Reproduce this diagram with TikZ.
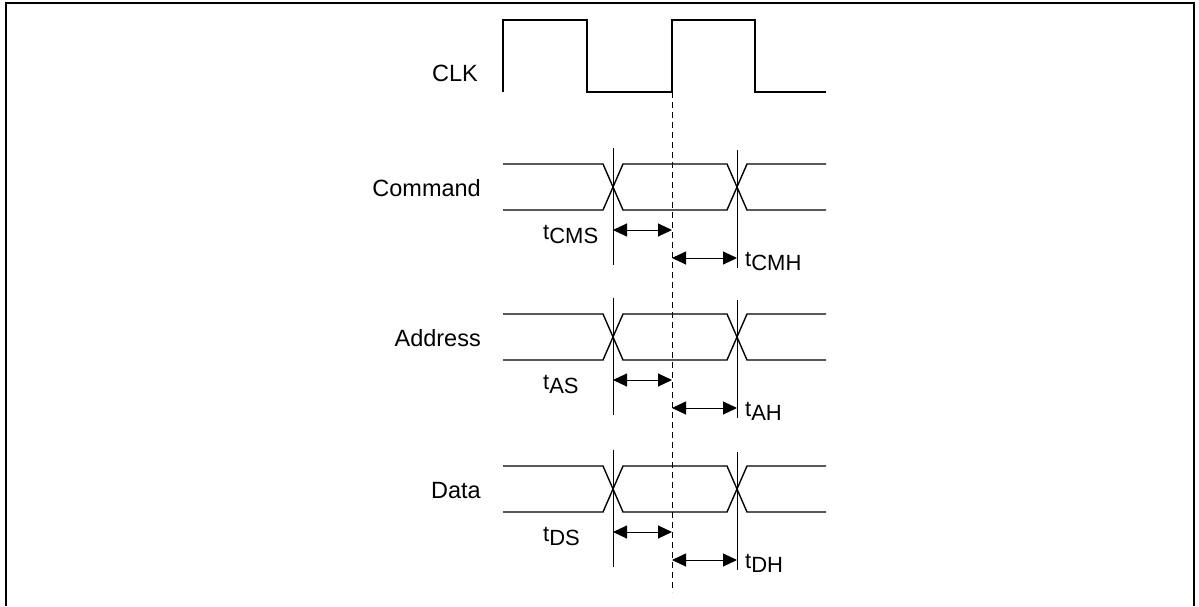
\documentclass[tikz,border=0pt]{standalone}
\usepackage{fontspec}
\setmainfont{Liberation Sans}
\usetikzlibrary{arrows.meta}
\newcommand\subtxt[1]{\raisebox{-4pt}{#1}}
\newcommand\busrow[5]{%
\begin{scope}[shift={(0,#2)}]
  \draw[busline] (503,164) -- (603,164) -- (623,210) -- (727,210) -- (747,164) -- (826,164);
  \draw[busline] (503,210) -- (603,210) -- (623,164) -- (727,164) -- (747,210) -- (826,210);
  \coordinate (#1-s0) at (613,148);
  \coordinate (#1-s1) at (613,265);
  \coordinate (#1-h0) at (737,150);
  \coordinate (#1-h1) at (737,268);
  \coordinate (#1-sa) at (613,230);
  \coordinate (#1-sb) at (672,230);
  \coordinate (#1-ha) at (672,258);
  \coordinate (#1-hb) at (737,258);
  \draw[refline] (#1-s0) -- (#1-s1);
  \draw[refline] (#1-h0) -- (#1-h1);
  \draw[dimarrow] (#1-sa) -- (#1-sb);
  \draw[dimarrow] (#1-ha) -- (#1-hb);
  \node[siglabel] (#1-lbl) at (481,196) {#3};
  \node[tlabel] (#1-tsu) at (543,239) {t\subtxt{#4}};
  \node[tlabel] (#1-tho) at (745,266) {t\subtxt{#5}};
\end{scope}}
\begin{document}
\begin{tikzpicture}[x=1pt,y=-1pt,
  frameline/.style={line width=2pt},
  clkline/.style={line width=2pt, line join=miter},
  busline/.style={line width=1.4pt},
  refline/.style={line width=0.8pt},
  dashline/.style={line width=0.9pt, dash pattern=on 6pt off 4pt},
  dimarrow/.style={line width=1pt, {Triangle[length=14pt,width=13pt]}-{Triangle[length=14pt,width=13pt]}},
  siglabel/.style={anchor=base east, inner sep=0pt, font=\fontsize{23.5}{28}\selectfont},
  tlabel/.style={anchor=base west, inner sep=0pt, font=\fontsize{22}{26}\selectfont}]
\useasboundingbox (0,0) rectangle (1199,606);
\draw[frameline] (5.5,606) -- (5.5,3) -- (1193.5,3) -- (1193.5,606);
\coordinate (d0) at (672,92);
\coordinate (d1) at (672,592);
\draw[dashline] (d0) -- (d1);
\draw[clkline] (503,92) -- (503,20) -- (587,20) -- (587,92) -- (672,92) -- (672,20) -- (755,20) -- (755,92) -- (826,92);
\node[siglabel] (clk) at (478,81) {CLK};
\busrow{cmd}{0}{Command}{CMS}{CMH}
\busrow{adr}{150}{Address}{AS}{AH}
\busrow{dat}{302}{Data}{DS}{DH}
\end{tikzpicture}
\end{document}
